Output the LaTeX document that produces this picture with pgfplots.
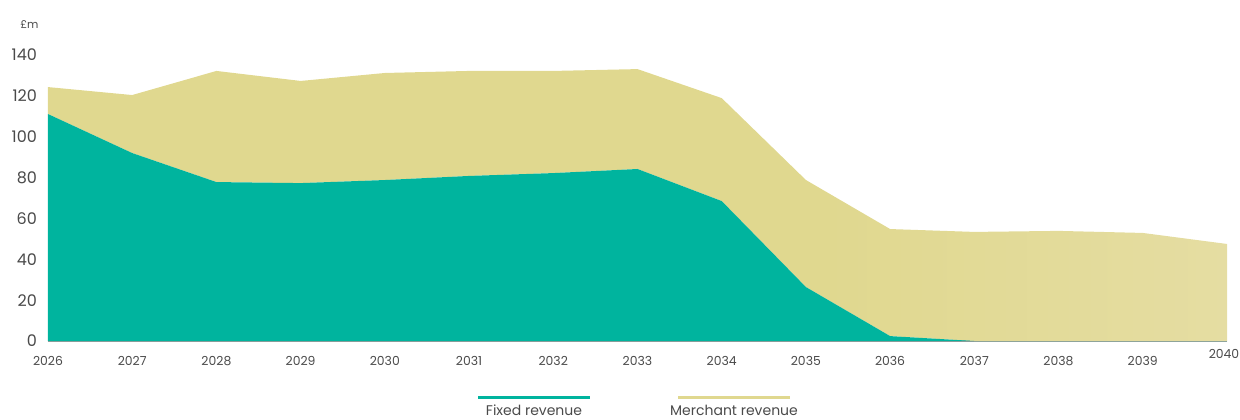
\documentclass[border=0pt]{standalone}
\usepackage{pgfplots}
\pgfplotsset{compat=1.18}
\usepackage{fontspec}
\setmainfont{Poppins}
\definecolor{fixedc}{HTML}{00B49E}
\definecolor{merchc}{HTML}{E0D88F}
\definecolor{merchlight}{HTML}{E5DDA2}
\definecolor{txt}{HTML}{4A4A4A}
\definecolor{axisc}{HTML}{9A9A9A}
\pgfdeclarehorizontalshading{merchshade}{100bp}{color(0bp)=(merchc); color(58bp)=(merchc); color(75bp)=(merchlight); color(100bp)=(merchlight)}
\begin{document}
\begin{tikzpicture}
\path[use as bounding box] (-24pt,-39pt) rectangle (596pt,170.5pt);
\begin{axis}[
    at={(0,0)}, anchor=south west,
    scale only axis,
    width=589.5pt, height=143pt,
    xmin=2026, xmax=2040, ymin=0, ymax=140,
    stack plots=y,
    axis x line*=bottom,
    axis y line*=left,
    x axis line style={axisc, line width=1pt, -},
    y axis line style={draw=none},
    xtick={2026,...,2039},
    extra x ticks={2040},
    extra x tick style={xticklabel style={xshift=-1.5pt, yshift=3.5pt}},
    ytick={0,20,...,140},
    major tick length=0pt,
    xticklabel style={font=\fontsize{6.2}{7}\selectfont, text=txt, yshift=-4pt},
    yticklabel style={font=\fontsize{8}{9}\selectfont, text=txt, xshift=-2pt},
    /pgf/number format/assume math mode=true,
    /pgf/number format/1000 sep={},
    clip=false,
]
\addplot[draw=none, fill=fixedc] coordinates {
(2026,111.1) (2027,92.0) (2028,77.8) (2029,77.3) (2030,78.8) (2031,80.8)
(2032,82.2) (2033,84.2) (2034,68.5) (2035,26.4) (2036,2.4) (2037,0)
(2038,0) (2039,0) (2040,0)} \closedcycle;
\addplot[draw=none, shade, shading=merchshade] coordinates {
(2026,13.2) (2027,28.4) (2028,54.4) (2029,50.0) (2030,52.4) (2031,51.4)
(2032,50.0) (2033,48.9) (2034,50.4) (2035,52.4) (2036,52.4) (2037,53.4)
(2038,53.9) (2039,52.9) (2040,47.5)} \closedcycle;
\draw[axisc, line width=1pt] (rel axis cs:0,0) -- (rel axis cs:1,0);
\node[anchor=south west, text=txt, font=\fontsize{5.5}{6}\selectfont, inner sep=0pt]
  at (rel axis cs:0,1) [xshift=-14pt, yshift=13pt] {£m};
\end{axis}
\draw[fixedc, line width=1.5pt] (215pt,-28pt) -- (271pt,-28pt);
\draw[merchc, line width=1.5pt] (315pt,-28pt) -- (371pt,-28pt);
\node[text=txt, font=\fontsize{7}{8}\selectfont] at (243pt,-34.5pt) {Fixed revenue};
\node[text=txt, font=\fontsize{7}{8}\selectfont] at (343pt,-34.5pt) {Merchant revenue};
\end{tikzpicture}
\end{document}
